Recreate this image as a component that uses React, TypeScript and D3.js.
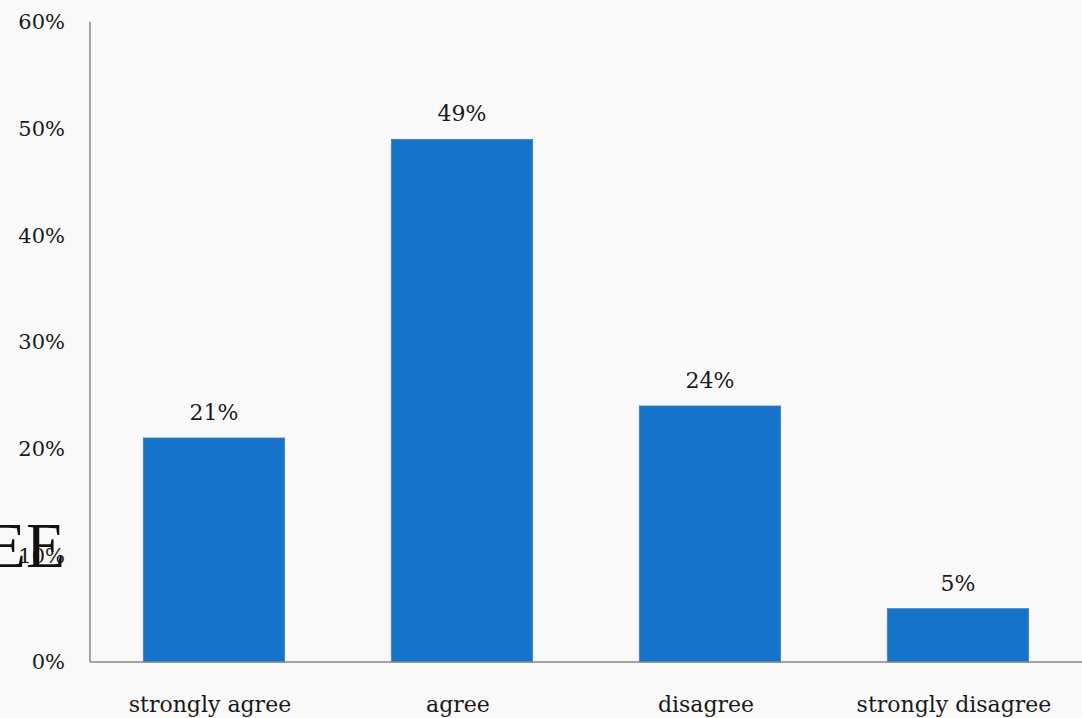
import React from "react";
import * as d3 from "d3";

const categories = ["strongly agree", "agree", "disagree", "strongly disagree"];
const shares = [0.21, 0.49, 0.24, 0.05];
const yTicks = [0, 0.1, 0.2, 0.3, 0.4, 0.5, 0.6];

const W = 1082;
const H = 718;
const FONT = "'DejaVu Serif', 'Liberation Serif', serif";

export default function App() {
  const x = d3
    .scaleBand<string>()
    .domain(categories)
    .range([90, 1082])
    .paddingInner(0.43)
    .paddingOuter(0.215);
  const y = d3.scaleLinear().domain([0, 0.6]).range([662, 22]);
  const pct = d3.format(".0%");

  return (
    <div style={{ position: "fixed", left: 0, top: 0 }}>
      <svg width={W} height={H} style={{ display: "block" }}>
        <rect x={0} y={0} width={W} height={H} fill="#f9f9f9" />

        {/* bars */}
        {categories.map((c, i) => (
          <rect
            key={c}
            x={x(c)}
            y={y(shares[i])}
            width={x.bandwidth()}
            height={y(0) - y(shares[i])}
            fill="#1472c8"
            stroke="#4f7fae"
            strokeWidth={0.8}
          />
        ))}

        {/* axes */}
        <line x1={90} x2={90} y1={y(0.6)} y2={y(0)} stroke="#868686" strokeWidth={1.5} />
        <line x1={90} x2={W} y1={y(0)} y2={y(0)} stroke="#868686" strokeWidth={1.5} />

        {/* y tick labels */}
        {yTicks.map((t) => (
          <text
            key={t}
            x={65}
            y={y(t)}
            dy="0.35em"
            textAnchor="end"
            fontFamily={FONT}
            fontSize={21}
            fill="#1a1a1a"
          >
            {pct(t)}
          </text>
        ))}

        {/* value labels */}
        {categories.map((c, i) => (
          <text
            key={c}
            x={(x(c) ?? 0) + x.bandwidth() / 2}
            y={y(shares[i]) - 18}
            textAnchor="middle"
            fontFamily={FONT}
            fontSize={22}
            fill="#1a1a1a"
          >
            {pct(shares[i])}
          </text>
        ))}

        {/* category labels */}
        {categories.map((c) => (
          <text
            key={c}
            x={(x(c) ?? 0) + x.bandwidth() / 2 - 4}
            y={712}
            textAnchor="middle"
            fontFamily={FONT}
            fontSize={22}
            fill="#1a1a1a"
          >
            {c}
          </text>
        ))}

        {/* stray slide heading fragment */}
        <text
          x={65}
          y={567}
          textAnchor="end"
          fontFamily="'Liberation Serif', serif"
          fontSize={64}
          fill="#111"
        >
          EE
        </text>
      </svg>
    </div>
  );
}
